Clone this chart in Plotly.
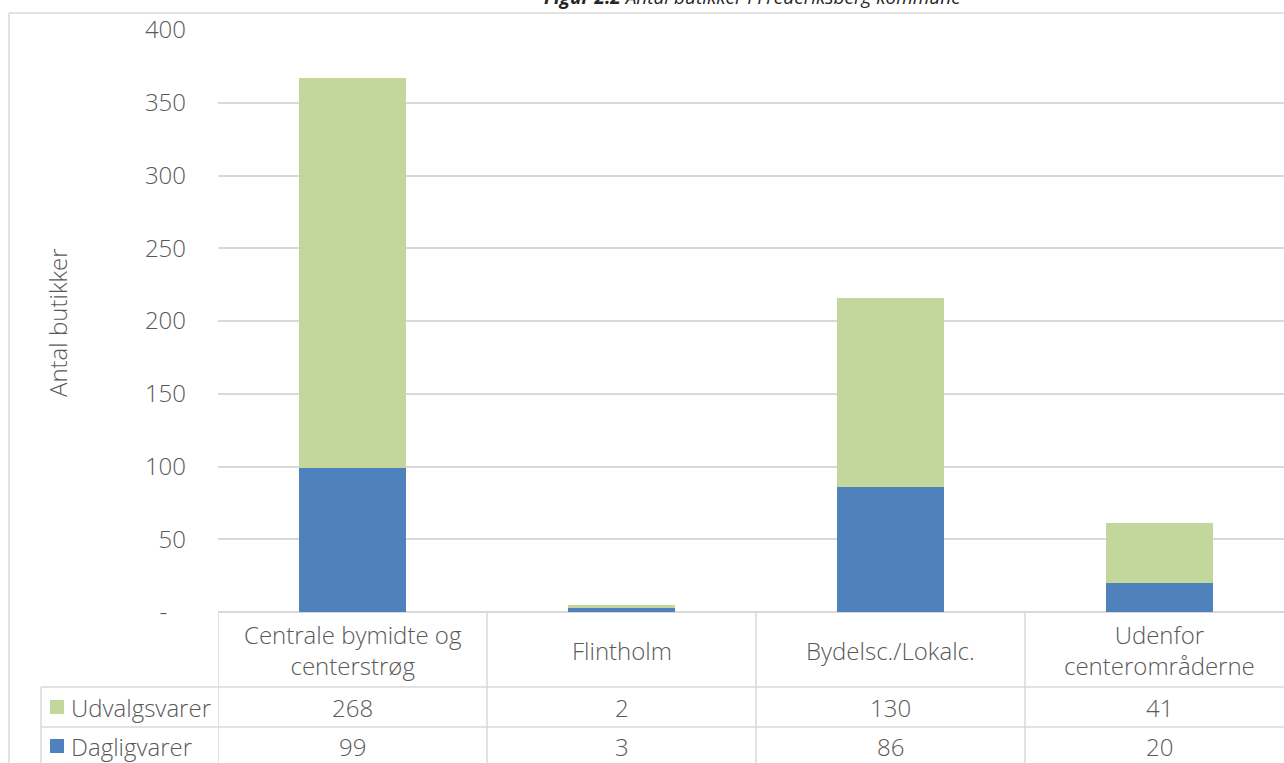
import plotly.graph_objects as go

# ---- data ----
categories = ["Centrale bymidte og<br>centerstrøg", "Flintholm", "Bydelsc./Lokalc.", "Udenfor<br>centerområderne"]
series_names = ["Udvalgsvarer", "Dagligvarer"]
udvalgsvarer = [268, 2, 130, 41]
dagligvarer = [99, 3, 86, 20]
y_ticks = [0, 50, 100, 150, 200, 250, 300, 350, 400]
y_ticktext = ["-\u00a0\u00a0\u00a0", "50", "100", "150", "200", "250", "300", "350", "400"]
title_bold = "Figur 2.2"
title_rest = "Antal butikker i Frederiksberg kommune"
y_title = "Antal butikker"

# ---- styling ----
W, H = 1284, 763
L, R, T, B = 218, 1284, 30, 612
FONT = "Open Sans"
TXT = "#595959"
GRID = "#d9d9d9"
BLUE = "#4f81bd"
GREEN = "#c3d69b"
FS = 24
WT = 300

def px(xp):
    return (xp - L) / (R - L)

def py(yp):
    return (B - yp) / (B - T)

def f(size=FS, color=TXT, weight=WT):
    return dict(family=FONT, size=size, color=color, weight=weight)

xpos = list(range(len(categories)))
col_w = 269.0
x_max = -0.5 + (R - L) / col_w

fig = go.Figure()
fig.add_trace(go.Bar(x=xpos, y=dagligvarer, name=series_names[1], marker=dict(color=BLUE, line=dict(width=0))))
fig.add_trace(go.Bar(x=xpos, y=udvalgsvarer, name=series_names[0], marker=dict(color=GREEN, line=dict(width=0))))

shapes = []
ann = []

# outer chart border
shapes.append(dict(type="line", xref="paper", yref="paper", x0=px(9), x1=px(9), y0=py(13), y1=py(800),
                   line=dict(color=GRID, width=1.5)))
shapes.append(dict(type="line", xref="paper", yref="paper", x0=px(9), x1=px(1300), y0=py(13), y1=py(13),
                   line=dict(color=GRID, width=1.5)))

# table vertical lines
for i in range(len(categories)):
    shapes.append(dict(type="line", xref="x", yref="paper", x0=i - 0.5, x1=i - 0.5, y0=py(B), y1=py(800),
                       line=dict(color=GRID, width=1.5)))
# table horizontal lines
for yy in [687, 727]:
    shapes.append(dict(type="line", xref="paper", yref="paper", x0=px(41), x1=px(1300), y0=py(yy), y1=py(yy),
                       line=dict(color=GRID, width=1.5)))
shapes.append(dict(type="line", xref="paper", yref="paper", x0=px(41), x1=px(41), y0=py(687), y1=py(800),
                   line=dict(color=GRID, width=1.5)))

# category header labels
for i, c in enumerate(categories):
    ann.append(dict(x=i, y=py(650), xref="x", yref="paper", text=c, showarrow=False,
                    font=f(), xanchor="center", yanchor="middle"))

# table values
rows = [(series_names[0], udvalgsvarer, GREEN, 707), (series_names[1], dagligvarer, BLUE, 746)]
for name, vals, col, yc in rows:
    for i, v in enumerate(vals):
        ann.append(dict(x=i, y=py(yc), xref="x", yref="paper", text=str(v), showarrow=False,
                        font=f(), xanchor="center", yanchor="middle"))
    shapes.append(dict(type="rect", xref="paper", yref="paper", x0=px(50), x1=px(64), y0=py(yc - 7), y1=py(yc + 7),
                       fillcolor=col, line=dict(width=0)))
    ann.append(dict(x=px(69), y=py(yc), xref="paper", yref="paper", text=name, showarrow=False,
                    font=f(), xanchor="left", yanchor="middle"))

# y axis title
ann.append(dict(x=px(57), y=py(323), xref="paper", yref="paper", text=y_title, textangle=-90, showarrow=False,
                font=f(), xanchor="center", yanchor="middle"))

# chart title (partly above the page, as in the reference)
ann.append(dict(x=px(752), y=py(12), xref="paper", yref="paper",
                text="<b><i>" + title_bold + "</i></b><i> " + title_rest + "</i>", showarrow=False,
                font=f(size=19, color="#262626", weight=400), xanchor="center", yanchor="bottom"))

fig.update_layout(
    width=W, height=H,
    margin=dict(l=L, r=W - R, t=T, b=H - B, pad=0),
    barmode="stack", bargap=0.6,
    plot_bgcolor="white", paper_bgcolor="white",
    showlegend=False,
    shapes=shapes, annotations=ann,
    hovermode=False,
    font=f(),
)
fig.update_xaxes(range=[-0.5, x_max], showticklabels=False, showgrid=False, zeroline=False, showline=False,
                 ticks="", fixedrange=True)
fig.update_yaxes(range=[0, 400], tickvals=y_ticks, ticktext=y_ticktext, showgrid=True, gridcolor=GRID, gridwidth=1.5,
                 zeroline=True, zerolinecolor=GRID, zerolinewidth=1.5, showline=False, ticks="",
                 ticklabelstandoff=31, tickfont=f(), fixedrange=True)

fig.write_html("out.html")
